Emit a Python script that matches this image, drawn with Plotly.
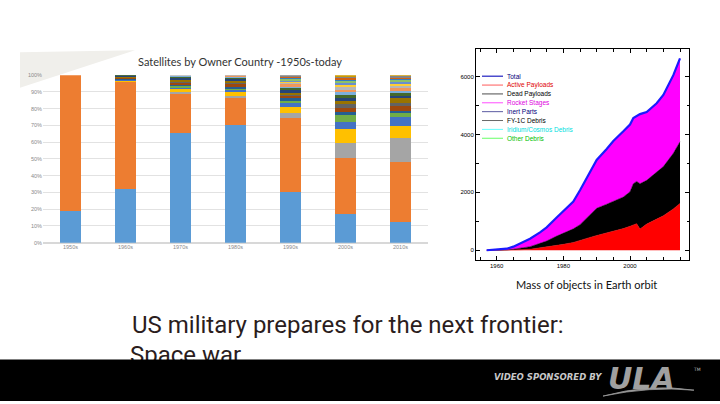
import plotly.graph_objects as go

W, H = 720, 404

# ---------------- Left chart data: share of satellites by owner (%) ----------------
decades = ["1950s", "1960s", "1970s", "1980s", "1990s", "2000s", "2010s"]
usa           = [19.0, 32.0, 65.6, 70.0, 30.4, 17.2, 12.1]
russia        = [81.0, 64.3, 23.4, 16.6, 44.1, 33.2, 35.9]
china         = [0.0, 0.0, 1.0, 1.2, 2.9, 9.4, 14.7]
japan         = [0.0, 0.7, 2.0, 2.6, 3.4, 8.2, 6.7]
multinational = [0.0, 0.3, 0.6, 0.8, 2.5, 3.9, 5.6]
france        = [0.0, 0.3, 1.2, 0.6, 1.4, 4.1, 2.8]
uk            = [0.0, 0.5, 0.8, 1.2, 1.4, 2.0, 1.0]
india         = [0.0, 0.3, 0.7, 1.5, 1.3, 2.6, 2.8]
germany       = [0.0, 0.4, 1.0, 1.3, 1.2, 2.0, 1.8]
canada        = [0.0, 0.3, 0.9, 1.0, 1.0, 2.2, 3.2]
esa           = [0.0, 0.6, 1.2, 1.4, 1.6, 1.8, 1.2]
italy         = [0.0, 0.3, 0.5, 0.6, 1.2, 1.6, 1.4]
brazil        = [0.0, 0.0, 0.5, 0.4, 1.0, 1.7, 1.6]
israel        = [0.0, 0.0, 0.0, 0.3, 1.1, 1.4, 1.5]
south_korea   = [0.0, 0.0, 0.6, 0.5, 1.2, 1.6, 1.6]
spain         = [0.0, 0.0, 0.0, 0.0, 0.5, 1.3, 1.0]
argentina     = [0.0, 0.0, 0.0, 0.0, 0.8, 1.2, 1.2]
australia     = [0.0, 0.0, 0.0, 0.0, 0.9, 1.1, 1.0]
indonesia     = [0.0, 0.0, 0.0, 0.0, 0.7, 1.0, 0.9]
saudi_arabia  = [0.0, 0.0, 0.0, 0.0, 0.6, 0.9, 0.8]
luxembourg    = [0.0, 0.0, 0.0, 0.0, 0.8, 0.8, 0.6]
others        = [0.0, 0.0, 0.0, 0.0, 0.0, 0.8, 0.6]

pct_ticks = [0, 10, 20, 30, 40, 50, 60, 70, 80, 90, 100]
pct_labels = [f"{v}%" for v in pct_ticks]

owners = [
    ("USA", usa, "#5B9BD5"), ("Russia", russia, "#ED7D31"), ("China", china, "#A5A5A5"),
    ("Japan", japan, "#FFC000"), ("Multinational", multinational, "#4472C4"),
    ("France", france, "#70AD47"), ("UK", uk, "#255E91"), ("India", india, "#9E480E"),
    ("Germany", germany, "#636363"), ("Canada", canada, "#997300"), ("ESA", esa, "#264478"),
    ("Italy", italy, "#43682B"), ("Brazil", brazil, "#7CAFDD"), ("Israel", israel, "#F1975A"),
    ("South Korea", south_korea, "#B7B7B7"), ("Spain", spain, "#FFCD33"),
    ("Argentina", argentina, "#698ED0"), ("Australia", australia, "#8CC168"),
    ("Indonesia", indonesia, "#327DC2"), ("Saudi Arabia", saudi_arabia, "#D26012"),
    ("Luxembourg", luxembourg, "#848484"), ("Others", others, "#CC9A00"),
]

# ---------------- Right chart data: mass of objects in Earth orbit (t) ----------------
years           = [1957, 1960, 1963, 1965, 1967, 1970, 1973, 1975, 1978, 1980, 1983, 1985, 1988,
                   1990, 1993, 1995, 1998, 2000, 2001, 2002, 2003, 2005, 2008, 2010, 2013, 2015]
active_payloads = [0, 0, 3, 10, 20, 35, 80, 125, 170, 205, 270, 350, 445,
                   510, 595, 660, 750, 830, 885, 920, 735, 905, 1080, 1190, 1430, 1620]
dead_payloads   = [0, 0, 7, 25, 50, 90, 160, 195, 320, 395, 470, 535, 795,
                   940, 995, 1020, 1090, 1190, 1415, 1460, 1565, 1510, 1610, 1700, 1920, 2130]
rocket_stages   = [0, 20, 45, 90, 170, 275, 380, 470, 640, 740, 940, 1190, 1440,
                   1670, 1910, 2095, 2270, 2325, 2270, 2250, 2405, 2360, 2390, 2475, 2700, 2880]
total_mass      = [0, 20, 55, 125, 240, 400, 620, 790, 1130, 1340, 1680, 2075, 2680,
                   3120, 3500, 3775, 4110, 4345, 4570, 4630, 4705, 4775, 5080, 5365, 6050, 6630]
mass_ticks = [0, 2000, 4000, 6000]
year_ticks = [1960, 1980, 2000]

legend_names  = ["Total", "Active Payloads", "Dead Payloads", "Rocket Stages", "Inert Parts",
                 "FY-1C Debris", "Iridium/Cosmos Debris", "Other Debris"]
legend_text_colors = ["#00007a", "#e00000", "#000000", "#e000e0", "#00007a", "#000000", "#00e0e0", "#00c000"]
legend_line_colors = ["#2020c0", "#ff3030", "#202020", "#ff20ff", "#30308a", "#404040", "#40ffff", "#40ff40"]


def px(x):
    return x / W


def py(y):
    return 1 - y / H


fig = go.Figure()

for name, vals, col in owners:
    fig.add_trace(go.Bar(x=decades, y=vals, name=name, marker=dict(color=col, line=dict(width=0)),
                         xaxis="x", yaxis="y", showlegend=False))

fig.add_trace(go.Scatter(x=years, y=active_payloads, name="Active Payloads", stackgroup="mass",
                         mode="lines", line=dict(color="#ff0000", width=0.5), fillcolor="#ff0000",
                         xaxis="x2", yaxis="y2", showlegend=False))
fig.add_trace(go.Scatter(x=years, y=dead_payloads, name="Dead Payloads", stackgroup="mass",
                         mode="lines", line=dict(color="#000000", width=0.5), fillcolor="#000000",
                         xaxis="x2", yaxis="y2", showlegend=False))
fig.add_trace(go.Scatter(x=years, y=rocket_stages, name="Rocket Stages", stackgroup="mass",
                         mode="lines", line=dict(color="#ff00ff", width=0.5), fillcolor="#ff00ff",
                         xaxis="x2", yaxis="y2", showlegend=False))
fig.add_trace(go.Scatter(x=years, y=total_mass, name="Total", mode="lines",
                         line=dict(color="#1a1aff", width=2.2),
                         xaxis="x2", yaxis="y2", showlegend=False))

# headline second line (drawn as a trace so the black band can clip it)
fig.add_trace(go.Scatter(x=[130], y=[359], mode="text", text=["Space war"], textposition="middle right",
                         textfont=dict(family="Roboto", size=24, color="#2b1d1d"),
                         xaxis="x3", yaxis="y3", showlegend=False, hoverinfo="skip", cliponaxis=False))

shapes = []
annotations = []

# decorative swoosh in the left panel
shapes.append(dict(type="path", xref="paper", yref="paper", layer="below",
                   path=f"M {px(20)},{py(50)} L {px(135)},{py(48)} L {px(20)},{py(86)} Z",
                   fillcolor="#f0efeb", line=dict(width=0)))

# custom legend for the mass chart
for i, (nm, tc, lc) in enumerate(zip(legend_names, legend_text_colors, legend_line_colors)):
    yy = 74.3 + 9.0 * i
    shapes.append(dict(type="line", xref="paper", yref="paper", x0=px(482), x1=px(503),
                       y0=py(yy), y1=py(yy), line=dict(color=lc, width=1.2 if i == 0 else 0.8)))
    annotations.append(dict(x=px(505), y=py(yy), xref="paper", yref="paper", text=nm,
                            showarrow=False, xanchor="left", yanchor="middle",
                            font=dict(family="Liberation Sans, Arial", size=6.5, color=tc)))

# black band
shapes.append(dict(type="rect", xref="paper", yref="paper", x0=0, x1=1, y0=0, y1=py(362),
                   fillcolor="#000000", line=dict(width=0), layer="above"))
# ULA swoosh
shapes.append(dict(type="path", xref="paper", yref="paper", layer="above",
                   path=f"M {px(603)},{py(399)} Q {px(650)},{py(386)} {px(694)},{py(393)} "
                        f"Q {px(650)},{py(389)} {px(603)},{py(399)} Z",
                   fillcolor="#9a9a9a", line=dict(color="#9a9a9a", width=0.8)))

annotations += [
    dict(x=px(240), y=py(59), xref="paper", yref="paper", text="Satellites by Owner Country -1950s-today",
         showarrow=False, xanchor="center", yanchor="middle",
         font=dict(family="Lato, Liberation Sans", size=11, color="#333333")),
    dict(x=px(586), y=py(286), xref="paper", yref="paper", text="Mass of objects in Earth orbit",
         showarrow=False, xanchor="center", yanchor="middle",
         font=dict(family="Lato, Liberation Sans", size=11, color="#111111")),
    dict(x=px(130), y=py(327), xref="paper", yref="paper", xanchor="left", yanchor="middle",
         text="US military prepares for the next frontier:", showarrow=False,
         font=dict(family="Roboto", size=24, color="#2b1d1d")),
    dict(x=px(604), y=py(380), xref="paper", yref="paper", xanchor="right", yanchor="middle",
         text="<b><i>VIDEO SPONSORED BY</i></b>", showarrow=False,
         font=dict(family="DejaVu Sans", size=8.5, color="#c8c8c8")),
    dict(x=px(606), y=py(381), xref="paper", yref="paper", xanchor="left", yanchor="middle",
         text="<b><i>ULA</i></b>", showarrow=False,
         font=dict(family="DejaVu Sans", size=30, color="#a0a0a0")),
    dict(x=px(697), y=py(372), xref="paper", yref="paper", xanchor="center", yanchor="middle",
         text="TM", showarrow=False,
         font=dict(family="DejaVu Sans", size=4.5, color="#bbbbbb")),
]

fig.update_layout(
    width=W, height=H, margin=dict(l=0, r=0, t=0, b=0),
    paper_bgcolor="white", plot_bgcolor="rgba(0,0,0,0)",
    barmode="stack", bargap=0.607, showlegend=False,
    xaxis=dict(domain=[px(43), px(428)], anchor="y", showgrid=False, showline=False, ticks="",
               tickfont=dict(family="Liberation Sans", size=5.5, color="#8a8a8a"), fixedrange=True),
    yaxis=dict(domain=[py(243.3), py(73.3)], anchor="x", range=[0, 100], tickvals=pct_ticks,
               ticktext=pct_labels, showgrid=True, gridcolor="#e2e2e2", gridwidth=0.8,
               zeroline=True, zerolinecolor="#d8d8d8", showline=False, ticks="",
               tickfont=dict(family="Liberation Sans", size=5.5, color="#8a8a8a")),
    xaxis2=dict(domain=[px(476), px(689)], anchor="y2", range=[1953.8, 2017.7], tickvals=year_ticks,
                showgrid=False, zeroline=False, showline=True, linecolor="black", linewidth=1,
                mirror="ticks", ticks="inside", ticklen=4, tickcolor="black",
                minor=dict(dtick=5, ticks="inside", ticklen=2.5, tickcolor="black"),
                tickfont=dict(family="Liberation Sans", size=6, color="black")),
    yaxis2=dict(domain=[py(260.7), py(46.7)], anchor="x2", range=[-330, 6953], tickvals=mass_ticks,
                showgrid=False, zeroline=False, showline=True, linecolor="black", linewidth=1,
                mirror="ticks", ticks="inside", ticklen=4, tickcolor="black",
                minor=dict(dtick=1000, ticks="inside", ticklen=2.5, tickcolor="black"),
                tickfont=dict(family="Liberation Sans", size=6, color="black")),
    xaxis3=dict(domain=[0, 1], anchor="y3", range=[0, W], visible=False, fixedrange=True),
    yaxis3=dict(domain=[0, 1], anchor="x3", range=[H, 0], visible=False, fixedrange=True),
    shapes=shapes, annotations=annotations,
)

fig.write_html("out.html", config={"displayModeBar": False},
               post_script="document.body.style.margin='0';document.body.style.overflow='hidden';")
